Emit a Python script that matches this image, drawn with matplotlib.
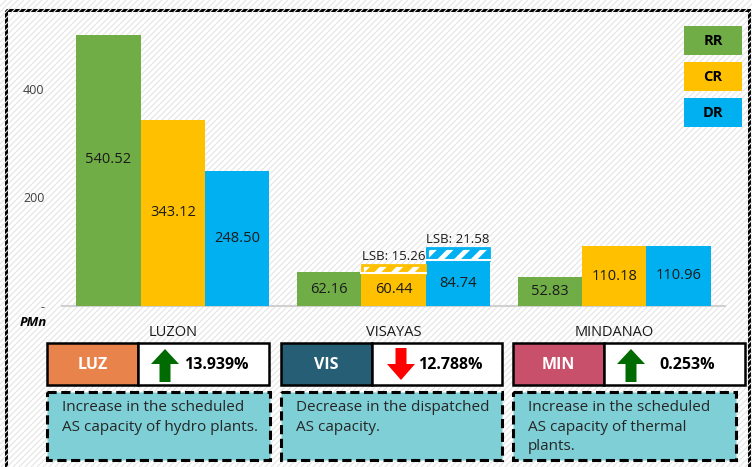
import matplotlib
matplotlib.use("Agg")
import matplotlib.pyplot as plt
import numpy as np
from matplotlib.patches import Rectangle, Polygon
from matplotlib.collections import LineCollection

# ---- data ----
regions = ["LUZON", "VISAYAS", "MINDANAO"]
series = ["RR", "CR", "DR"]
rr = [540.52, 62.16, 52.83]
cr = [343.12, 60.44, 110.18]
dr = [248.50, 84.74, 110.96]
lsb_cr = [0, 15.26, 0]
lsb_dr = [0, 21.58, 0]
yticks = [0, 200, 400]
ytick_labels = ["-", "200", "400"]
codes = ["LUZ", "VIS", "MIN"]
changes = ["13.939%", "12.788%", "0.253%"]
directions = ["up", "down", "up"]
notes = ["Increase in the scheduled\nAS capacity of hydro plants.",
         "Decrease in the dispatched\nAS capacity.",
         "Increase in the scheduled\nAS capacity of thermal\nplants."]

colors = {"RR": "#70AD47", "CR": "#FFC000", "DR": "#00B0F0"}
code_colors = ["#E8834B", "#255E75", "#C9506A"]

FONT = ["Open Sans", "DejaVu Sans"]
plt.rcParams["font.family"] = FONT
plt.rcParams["hatch.linewidth"] = 3.5

W, H = 752, 467
fig = plt.figure(figsize=(W / 100, H / 100), dpi=100)
fig.patch.set_facecolor("white")

# background overlay (pixel coordinates)
bg = fig.add_axes([0, 0, 1, 1], zorder=0)
bg.set_xlim(0, W)
bg.set_ylim(H, 0)
bg.axis("off")
offs = np.arange(-H, W + H, 6.0)
segs = [[(o, H), (o + H, 0)] for o in offs]
bg.add_collection(LineCollection(segs, colors="#e4e4e4", linewidths=0.8))
bg.add_patch(Rectangle((6, 10), 743, 470, fill=False, edgecolor="black", lw=2.2))

# main chart
ax = fig.add_axes([62.5 / W, 1 - 306 / H, (724.5 - 62.5) / W, (306 - 34.75) / H], zorder=2)
ax.patch.set_alpha(0)
ax.set_ylim(0, 500)
x = np.arange(len(regions))
bw = 0.875 / 3
ax.set_xlim(-0.5, len(regions) - 0.5)

for i, (name, vals) in enumerate(zip(series, [rr, cr, dr])):
    pos = x + (i - 1) * bw
    ax.bar(pos, vals, width=bw, color=colors[name], edgecolor="none", zorder=3)
    for p, v in zip(pos, vals):
        ax.text(p, v / 2, f"{v:.2f}", ha="center", va="center", fontsize=10.5,
                color="#1a1a1a", zorder=5, clip_on=False)

for i, (name, base, lsb) in enumerate([("CR", cr, lsb_cr), ("DR", dr, lsb_dr)]):
    pos = x + i * bw
    for p, b, l in zip(pos, base, lsb):
        if l <= 0:
            continue
        ax.bar(p, l, bottom=b, width=bw, color=colors[name], edgecolor="white",
               hatch="//", lw=0, zorder=3)
        ax.bar(p, l, bottom=b, width=bw * 0.97, fill=False, edgecolor=colors[name], lw=2, zorder=4)
        ax.plot([p - bw / 2, p + bw / 2], [b, b], color="white", lw=1.5, zorder=4)
        ax.text(p, b + l + 4, f"LSB: {l:.2f}", ha="center", va="bottom", fontsize=9.5,
                color="#1a1a1a", zorder=5)

ax.set_yticks(yticks)
ax.set_yticklabels(ytick_labels, fontsize=9, color="#404040")
ax.tick_params(axis="y", length=0, pad=13)
ax.set_xticks(x)
ax.set_xticklabels(regions, fontsize=10.5, color="#1a1a1a")
ax.tick_params(axis="x", length=0, pad=14)
for s in ["top", "right", "left"]:
    ax.spines[s].set_visible(False)
ax.spines["bottom"].set_color("#d0d0d0")
ax.spines["bottom"].set_linewidth(1.5)

# PMn label
bg.text(20, 323, "PMn", fontsize=9.5, fontweight="bold", fontstyle="italic",
        ha="left", va="center", zorder=5)

# legend boxes
fg = fig.add_axes([0, 0, 1, 1], zorder=3)
fg.set_xlim(0, W)
fg.set_ylim(H, 0)
fg.axis("off")
for name, y0 in zip(series, [26, 62, 98]):
    fg.add_patch(Rectangle((684, y0), 58, 29, facecolor=colors[name], edgecolor="none"))
    fg.text(713, y0 + 15, name, ha="center", va="center", fontsize=10.5,
            fontweight="bold", color="black")

# bottom panels
panels = [
    dict(x0=47, x1=269, div=138, arrow=(151, 179), txt=184, dash=(47, 270)),
    dict(x0=281, x1=502, div=372, arrow=(387, 415), txt=418, dash=(281, 502)),
    dict(x0=513, x1=745, div=604, arrow=(617, 645), txt=659, dash=(513, 736)),
]
for k, pnl in enumerate(panels):
    y0, y1 = 343, 385
    fg.add_patch(Rectangle((pnl["x0"], y0), pnl["div"] - pnl["x0"], y1 - y0,
                           facecolor=code_colors[k], edgecolor="black", lw=1.8))
    fg.add_patch(Rectangle((pnl["div"], y0), pnl["x1"] - pnl["div"], y1 - y0,
                           facecolor="white", edgecolor="black", lw=1.8))
    fg.text((pnl["x0"] + pnl["div"]) / 2, (y0 + y1) / 2 + 1, codes[k], ha="center",
            va="center", fontsize=11.5, fontweight="bold", color="white")
    ax0, ax1 = pnl["arrow"]
    cx = (ax0 + ax1) / 2
    bw2 = 5.5
    if directions[k] == "up":
        top, bot, hb = 349, 382, 364
        verts = [(cx, top), (ax1, hb), (cx + bw2, hb), (cx + bw2, bot), (cx - bw2, bot),
                 (cx - bw2, hb), (ax0, hb)]
        col = "#006B00"
    else:
        top, bot, hb = 348, 380, 364
        verts = [(cx, bot), (ax1, hb), (cx + bw2, hb), (cx + bw2, top), (cx - bw2, top),
                 (cx - bw2, hb), (ax0, hb)]
        col = "#FF0000"
    fg.add_patch(Polygon(verts, closed=True, facecolor=col, edgecolor="none"))
    fg.text(pnl["txt"], (y0 + y1) / 2 + 1, changes[k], ha="left", va="center",
            fontsize=11.5, fontweight="bold", color="black")
    d0, d1 = pnl["dash"]
    fg.add_patch(Rectangle((d0, 392), d1 - d0, 68, facecolor="#7ECFD6", edgecolor="black",
                           lw=2.2, linestyle=(0, (3, 1.5))))
    fg.text(d0 + 15, 400, notes[k], ha="left", va="top", fontsize=11,
            color="#262626", linespacing=1.42)

fig.savefig("out.png", dpi=100)
